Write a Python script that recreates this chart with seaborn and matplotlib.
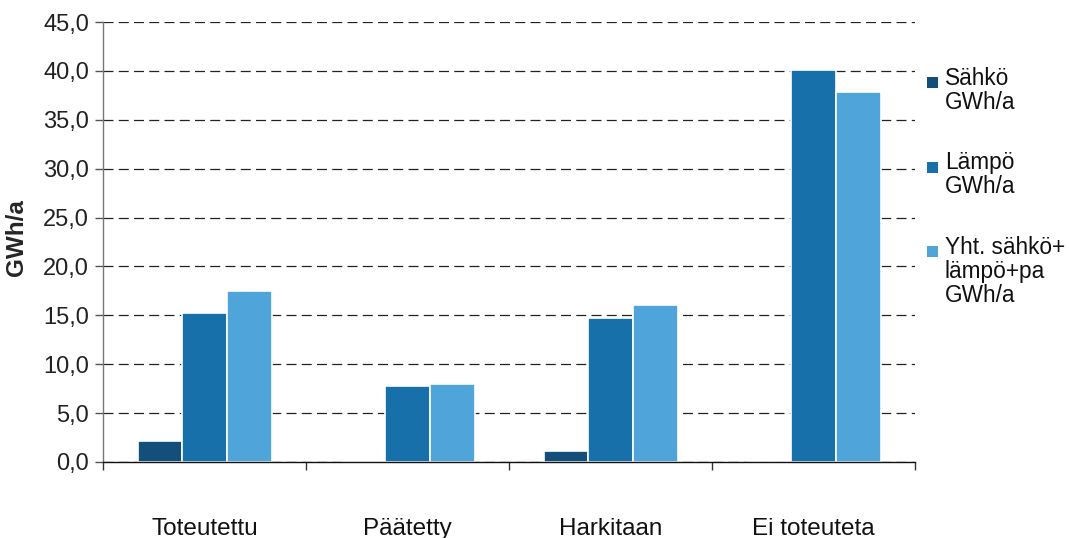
import pandas as pd
import matplotlib
matplotlib.use("Agg")
import matplotlib.pyplot as plt
import seaborn as sns
from matplotlib.patches import Rectangle

# Data
categories = ["Toteutettu", "Päätetty", "Harkitaan", "Ei toteuteta"]
sahko = [2.1, 0.0, 1.1, 0.0]
lampo = [15.2, 7.8, 14.7, 40.1]
yht = [17.5, 8.0, 16.1, 37.8]
series_names = ["Sähkö\nGWh/a", "Lämpö\nGWh/a", "Yht. sähkö+\nlämpö+pa\nGWh/a"]
y_ticks = [0, 5, 10, 15, 20, 25, 30, 35, 40, 45]

colors = ["#134f7a", "#1870ab", "#4fa4da"]

rows = []
for name, vals in zip(series_names, [sahko, lampo, yht]):
    for cat, v in zip(categories, vals):
        rows.append({"Kategoria": cat, "Sarja": name, "Arvo": v})
df = pd.DataFrame(rows)

sns.set_theme(style="white")
plt.rcParams["font.family"] = ["Liberation Sans", "DejaVu Sans"]

fig = plt.figure(figsize=(10.69, 5.38), dpi=100)
ax = fig.add_axes([0.0964, 0.1413, 0.7596, 0.8178])

sns.barplot(
    data=df, x="Kategoria", y="Arvo", hue="Sarja",
    order=categories, hue_order=series_names,
    palette=colors, width=0.66, edgecolor="white", linewidth=1.2,
    saturation=1, legend=False, ax=ax, zorder=3,
)

ax.set_ylim(0, 45)
ax.set_xlim(-0.5, 3.5)
ax.set_yticks(y_ticks)
ax.set_yticklabels([f"{t:.1f}".replace(".", ",") for t in y_ticks], fontsize=17, color="#222222")
ax.yaxis.grid(True, linestyle=(0, (8, 4.2)), color="#222222", linewidth=0.9, zorder=0)
ax.set_axisbelow(True)

# category boundary ticks on x axis
ax.set_xticks([-0.5, 0.5, 1.5, 2.5, 3.5], minor=True)
ax.tick_params(axis="x", which="major", length=0, pad=40, labelsize=17.5, labelcolor="#111111")
ax.tick_params(axis="x", which="minor", length=6, direction="out", color="#333333",
               width=1, bottom=True)
ax.tick_params(axis="y", length=6, direction="out", color="#555555", width=1, left=True, pad=4)

ax.set_xlabel("")
ax.set_ylabel("GWh/a", fontsize=17.5, fontweight="bold")
ax.yaxis.set_label_coords(-0.092, 0.51)

sns.despine(ax=ax, top=True, right=True)
for side, col in [("left", "#777777"), ("bottom", "#111111")]:
    ax.spines[side].set_color(col)
    ax.spines[side].set_linewidth(1)
    ax.spines[side].set_zorder(5)

# legend: square marker next to the first text line
W, H = fig.get_size_inches() * fig.dpi
for i, (name, col) in enumerate(zip(series_names, colors)):
    top_px = 67 + i * 84.5
    fig.patches.append(Rectangle((927 / W, 1 - (top_px + 21) / H), 11 / W, 11 / H,
                                 transform=fig.transFigure, facecolor=col,
                                 edgecolor="none"))
    fig.text(945 / W, 1 - top_px / H, name, fontsize=16.3, va="top", ha="left",
             color="#111111", linespacing=1.05)

fig.savefig("out.png", dpi=100)
